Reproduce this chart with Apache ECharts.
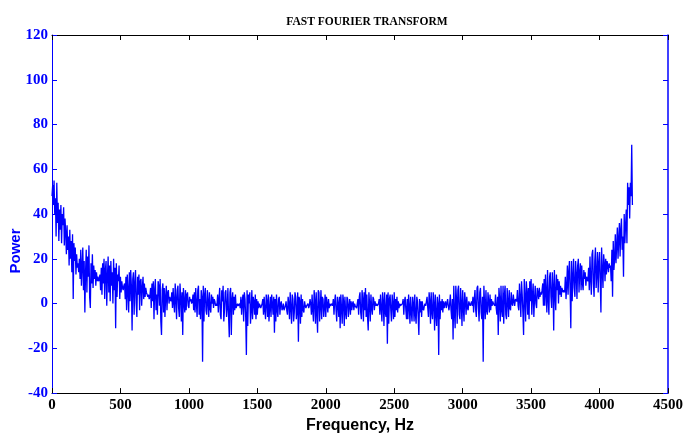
<!DOCTYPE html>
<html>
<head>
<meta charset="utf-8">
<script src="https://cdn.jsdelivr.net/npm/echarts@6/dist/echarts.min.js"></script>
<style>
html,body{margin:0;padding:0;background:#fff;}
#chart{width:686px;height:439px;}
</style>
</head>
<body>
<div id="chart"></div>
<script>
// Frequency sampling step of the spectrum (Hz)
const FREQ_STEP = 5;
// Power values, one every FREQ_STEP Hz starting at 0 Hz (one row = 100 Hz)
const power = [
  48, 53, 44, 55, 40, 47, 30, 54, 36, 45, 28, 42, 33, 44, 27, 40, 35, 43, 26, 38,
  32, 22, 35, 24, 30, 17, 33, 20, 28, 14, 31, 2, 27, 19, 25, 13, 22, 16, 18, 14,
  20, 11, 24, 8, 17, 25, 6, 19, -4, 14, 24, 5, 21, 12, 26, 3, -2, 18, 9, 22,
  7, 17, 11, 15, 8, 14, 10, 12, 10, 11, 13, 6, 16, 4, 18, 9, 20, 2, 15, 19,
  -1, 12, 21, 5, 17, 1, 19, 8, 14, 0, 20, 6, 16, -11, 18, 3, 13, 10, 17, 2,
  12, 5, 10, 7, 6, 8, 9, 2, 12, -3, 13, 6, -4, 14, 1, 15, 8, -12, 11, 14,
  -5, 9, 15, 0, -6, 12, 4, 13, -3, 10, 11, -1, 7, 12, 2, 9, 3, 7, 5, 4,
  3, 4, 2, 3, 7, -2, 9, 1, 10, -7, 6, 11, -3, 4, -5, 10, 8, -1, 11, -8,
  -14, 6, 9, -4, 7, -6, 3, 8, -3, 5, 6, 0, 3, 2, 1, 5, -2, 7, 0, -4,
  9, 2, -7, 6, 8, -2, -6, 9, 3, -8, 5, -14, 7, 1, -4, 6, -3, 4, 5, -1,
  -2, 3, 1, 2, 0, 1, 4, -3, 5, -4, 7, 0, -6, 6, 8, -5, 2, -7, 6, 3,
  -26, 8, -8, 4, 7, -3, -5, 6, 1, -6, 5, -2, -4, 4, 0, 3, -2, 2, 1, -1,
  0, -1, 4, -4, 2, 7, -5, -7, 6, 1, 8, -8, -3, 5, 6, -6, -2, 7, -6, -15,
  5, 7, -14, 2, 5, -5, 3, -3, 4, -2, -1, 0, -1, -1, 0, -2, 3, -5, 1, 4,
  -8, 5, 2, -6, -23, 6, -10, 4, 0, 5, -9, -3, 6, -7, 3, 1, -5, 4, -7, 2,
  -5, 1, -2, 0, -1, -2, -1, 0, 2, -5, 3, -3, -7, 4, 1, -6, 4, -8, -2, 3,
  -6, 4, 0, -5, 3, -13, 2, -8, 4, -3, -6, 2, 3, -5, 0, 1, -3, -2, 0, -3,
  -2, -1, 1, -3, -5, 3, 0, -7, 5, -2, -9, 4, 2, -8, -4, 5, 3, -7, -3, 5,
  -17, 3, 1, -9, 4, -6, 2, -3, -4, 1, -1, -2, -1, -1, 0, -2, -1, 2, 0, -5,
  4, -3, -8, 6, 1, -9, 5, -4, -13, 6, 5, -8, -1, 6, -7, 3, 2, -6, -2, 4,
  -6, 3, 0, -4, 2, -2, 0, -1, -1, 0, -1, 2, -5, 1, 4, -3, -8, 3, 0, -6,
  3, -11, 4, -2, -9, 4, 1, -10, 3, -4, -7, 3, 2, -6, -1, 2, -5, 1, -3, 0,
  1, -3, 0, -1, -1, -2, 0, 2, -5, 3, 5, -4, -7, 6, 2, -8, 5, -3, 7, -6,
  4, -6, -12, 5, 0, -8, 4, -2, -5, 3, 2, -3, 1, -1, 0, -1, -1, 0, 2, -5,
  4, -2, -8, 5, 1, -10, 5, -4, -6, 4, -18, 5, -9, 2, 4, -3, -8, 4, 0, -7,
  5, -6, 2, -3, 3, -4, 1, -2, 0, -1, -1, -1, 0, 2, -5, 1, 3, -3, -7, 2,
  -7, 4, -1, -9, 3, -4, -8, 3, 0, -8, 4, -5, -9, 3, 1, -6, -14, 2, -4, 1,
  -6, 1, -2, -3, -1, 0, -1, -1, 3, -2, -6, 5, 1, -9, 5, -4, -7, 5, 0, -12,
  4, -5, -10, 3, 0, -23, 4, -7, 1, -3, 2, -4, 1, -2, 0, 1, -2, 0, 2, -1,
  -3, 0, 4, -3, -7, 2, -16, 8, -4, -11, 8, 2, -9, 6, 8, -5, -7, 7, 0, -10,
  6, -2, -8, 5, 1, -5, 3, -2, -3, 1, 0, -1, 0, 1, -1, 3, -4, 2, 6, -3,
  -6, 7, 8, -2, -8, 5, 7, -4, -7, 3, -26, 8, 0, -7, 6, -3, -5, 5, 1, -4,
  4, -3, 2, -1, 1, 0, 0, -1, 4, -2, -5, 3, -14, 7, 2, -8, 8, -3, -6, 8,
  -9, 4, 8, -5, -7, 7, 1, -6, 6, -2, -3, 5, 0, -1, 4, 1, -1, 2, 2, 1,
  6, -1, -3, 9, 2, -6, 10, 4, -4, -14, 11, 3, -8, 10, 5, -5, 7, -7, 10, 1,
  11, -5, 4, 9, -6, 2, 8, 0, -2, 7, 5, 2, 7, 3, 5, 4, 6, 9, -1, 11,
  -1, 13, 5, -4, 15, 2, -5, 12, 14, 3, -2, 14, 8, -12, 15, 4, -3, 13, 6, 11,
  0, 10, 4, 8, 3, 7, 6, 5, 6, 5, 12, 2, 8, 17, 4, 14, 19, 6, -11, 19,
  1, 12, 20, 7, 3, 19, 13, 2, 17, 20, 5, 14, 18, 6, 17, 9, 6, 15, 11, 14,
  8, 12, 11, 10, 16, 6, 21, 11, 4, 22, 24, 9, 3, 19, 25, 7, 13, 23, 5, 18,
  23, 10, -4, 25, 15, 7, 22, 18, 10, 20, 13, 19, 17, 14, 18, 16, 17, 10, 24, 3,
  28, 15, 20, 31, 18, 26, 34, 20, 29, 36, 21, 33, 38, 24, 30, 12, 40, 27, 35, 42,
  27, 54, 44, 52, 38, 54, 48, 71, 44
];
const titleText = 'FAST FOURIER TRANSFORM';
const xName = 'Frequency, Hz';
const yName = 'Power';
const xRange = [0, 4500];
const xStep = 500;
const yRange = [-40, 120];
const yStep = 20;

const BLUE = '#0000ff';
const seriesData = power.map((v, i) => [i * FREQ_STEP, v]);
const plain = v => String(v);

const chart = echarts.init(document.getElementById('chart'), null, {renderer: 'canvas'});
chart.setOption({
  animation: false,
  backgroundColor: '#ffffff',
  title: {
    text: titleText,
    left: 362,
    top: 11,
    textAlign: 'center',
    textStyle: {fontFamily: 'Liberation Serif', fontWeight: 'bold', fontSize: 11.5, color: '#000'}
  },
  grid: {left: 52, right: 18, top: 35, bottom: 43, containLabel: false},
  xAxis: [{
    type: 'value', min: xRange[0], max: xRange[1], interval: xStep,
    position: 'bottom',
    name: xName, nameLocation: 'middle', nameGap: 21,
    nameTextStyle: {fontFamily: 'Liberation Sans', fontWeight: 'bold', fontSize: 16, color: '#000'},
    axisLine: {show: true, onZero: false, lineStyle: {color: '#000', width: 1}},
    axisTick: {show: true, inside: true, length: 5, lineStyle: {color: '#000'}},
    axisLabel: {margin: 5, formatter: plain, fontFamily: 'Liberation Serif', fontWeight: 'bold', fontSize: 15, color: '#000'},
    splitLine: {show: false}
  }, {
    type: 'value', min: xRange[0], max: xRange[1], interval: xStep,
    position: 'top',
    axisLine: {show: true, onZero: false, lineStyle: {color: '#000', width: 1}},
    axisTick: {show: true, inside: true, length: 5, lineStyle: {color: '#000'}},
    axisLabel: {show: false},
    splitLine: {show: false}
  }],
  yAxis: [{
    type: 'value', min: yRange[0], max: yRange[1], interval: yStep,
    position: 'left',
    axisLine: {show: true, onZero: false, lineStyle: {color: BLUE, width: 1}},
    axisTick: {show: true, inside: true, length: 5, lineStyle: {color: BLUE}},
    axisLabel: {margin: 4, formatter: plain, fontFamily: 'Liberation Serif', fontWeight: 'bold', fontSize: 15, color: BLUE},
    splitLine: {show: false}
  }, {
    type: 'value', min: yRange[0], max: yRange[1], interval: yStep,
    position: 'right',
    axisLine: {show: true, onZero: false, lineStyle: {color: BLUE, width: 1.5}},
    axisTick: {show: true, inside: true, length: 5, lineStyle: {color: BLUE}},
    axisLabel: {show: false},
    splitLine: {show: false}
  }],
  graphic: [{
    type: 'text',
    x: 16, y: 251,
    rotation: Math.PI / 2,
    style: {
      text: yName, x: 0, y: 0,
      align: 'center', verticalAlign: 'middle',
      textAlign: 'center', textVerticalAlign: 'middle',
      font: 'bold 15px "Liberation Sans"', fill: BLUE
    }
  }],
  series: [{
    type: 'line',
    xAxisIndex: 0, yAxisIndex: 0,
    data: seriesData,
    showSymbol: false,
    symbol: 'none',
    sampling: null,
    lineStyle: {color: BLUE, width: 1.3},
    itemStyle: {color: BLUE},
    clip: true
  }]
});
</script>
</body>
</html>
